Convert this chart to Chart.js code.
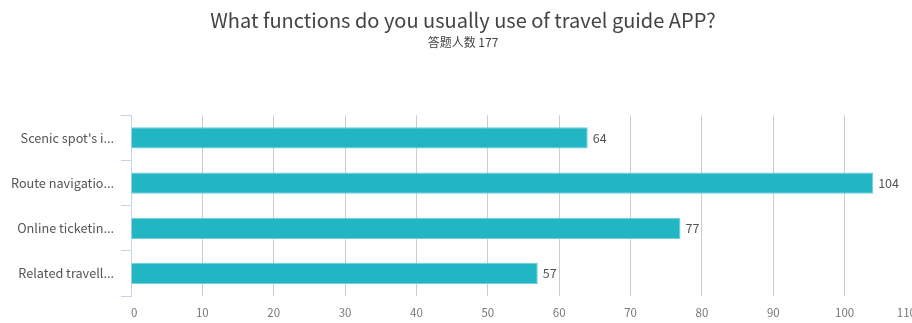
<!DOCTYPE html>
<html>
<head>
<meta charset="utf-8">
<script src="https://cdn.jsdelivr.net/npm/chart.js@4"></script>
<style>
  html, body { margin: 0; padding: 0; background: #fff; overflow: hidden; }
  #wrap { width: 926px; height: 323px; }
</style>
</head>
<body>
<div id="wrap"><canvas id="bar-chart"></canvas></div>
<script>
var categories = ["Scenic spot's i...", "Route navigatio...", "Online ticketin...", "Related travell..."];
var counts = [64, 104, 77, 57];
var xTicks = [0, 10, 20, 30, 40, 50, 60, 70, 80, 90, 100, 110];

var FONT = "'Noto Sans CJK SC', 'Noto Sans', sans-serif";

var valueLabels = {
  id: 'valueLabels',
  afterDatasetsDraw: function(chart) {
    var ctx = chart.ctx;
    var meta = chart.getDatasetMeta(0);
    ctx.save();
    ctx.font = "12.5px " + FONT;
    ctx.fillStyle = '#555';
    ctx.textAlign = 'left';
    ctx.textBaseline = 'middle';
    meta.data.forEach(function(bar, i) {
      ctx.fillText(chart.data.datasets[0].data[i], bar.x + 5, bar.y);
    });
    ctx.restore();
  }
};

new Chart(document.getElementById("bar-chart"), {
  type: 'bar',
  data: {
    labels: categories,
    datasets: [{
      data: counts,
      backgroundColor: '#22b5c4',
      borderColor: '#6fd0da',
      borderWidth: 1,
      categoryPercentage: 0.47,
      barPercentage: 1
    }]
  },
  plugins: [valueLabels],
  options: {
    indexAxis: 'y',
    responsive: true,
    maintainAspectRatio: false,
    animation: false,
    layout: { padding: 0 },
    plugins: {
      legend: { display: false },
      tooltip: { enabled: false },
      title: {
        display: true,
        text: 'What functions do you usually use of travel guide APP?',
        color: '#444',
        font: { family: FONT, size: 20, weight: 'normal' },
        padding: { top: 8, bottom: 0 }
      },
      subtitle: {
        display: true,
        text: '答题人数 177',
        color: '#444',
        font: { family: FONT, size: 12, weight: 'normal' },
        padding: { top: 3, bottom: 66 }
      }
    },
    scales: {
      x: {
        min: 0,
        max: 110,
        afterBuildTicks: function(axis) {
          axis.ticks = xTicks.map(function(v) { return { value: v }; });
        },
        afterFit: function(axis) { axis.height = 27; },
        grid: { color: '#cccccc', drawTicks: false },
        border: { display: false },
        ticks: { color: '#777', font: { family: FONT, size: 11.5 }, padding: 10, align: 'inner' }
      },
      y: {
        offset: true,
        afterFit: function(axis) { axis.width = 131; },
        grid: { offset: true, drawOnChartArea: false, drawTicks: true, tickLength: 10, color: '#c5d5ea' },
        border: { display: true, color: '#c5d5ea' },
        ticks: { color: '#555', font: { family: FONT, size: 12.7 }, padding: 7 }
      }
    }
  }
});
</script>
</body>
</html>
